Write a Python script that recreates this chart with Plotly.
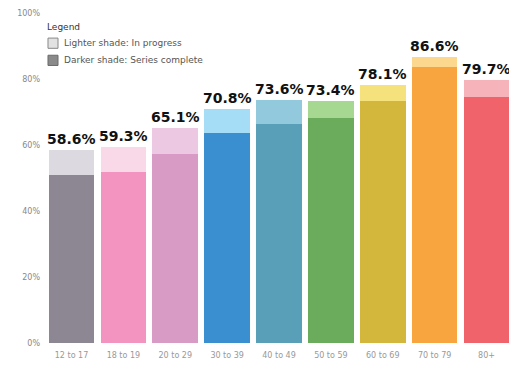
import plotly.graph_objects as go

categories = ["12 to 17", "18 to 19", "20 to 29", "30 to 39", "40 to 49",
              "50 to 59", "60 to 69", "70 to 79", "80+"]
total_pct = [58.6, 59.3, 65.1, 70.8, 73.6, 73.4, 78.1, 86.6, 79.7]
complete_pct = [51.0, 51.8, 57.2, 63.6, 66.4, 68.3, 73.3, 83.6, 74.6]
in_progress_pct = [round(t - c, 1) for t, c in zip(total_pct, complete_pct)]
total_labels = [f"{v:.1f}%" for v in total_pct]

dark_colors = ["#8c8792", "#f394c0", "#d79bc6", "#3a8fd0", "#5a9fb8",
               "#6aab5c", "#d3b73c", "#f8a43f", "#f1636a"]
light_colors = ["#dcdae0", "#f9d8e8", "#ecc8e2", "#a6ddf6", "#92c9dc",
                "#a6d892", "#f6e27c", "#fbd88e", "#f7b3ba"]

legend_title = "Legend"
legend_items = ["Lighter shade: In progress", "Darker shade: Series complete"]
legend_fill = ["#e2e2e2", "#8a8a8a"]
legend_edge = ["#888888", "#6a6a6a"]

fig = go.Figure()
fig.add_trace(go.Bar(x=categories, y=complete_pct, marker_color=dark_colors,
                     marker_line_width=0, showlegend=False, hoverinfo="skip"))
fig.add_trace(go.Bar(x=categories, y=in_progress_pct, marker_color=light_colors,
                     marker_line_width=0, showlegend=False, hoverinfo="skip"))

for c, t, lab in zip(categories, total_pct, total_labels):
    fig.add_annotation(x=c, y=t, text=f"<b>{lab}</b>", showarrow=False,
                       yanchor="bottom", yshift=1,
                       font=dict(family="DejaVu Sans", size=14, color="#111"))

# custom legend block (top-left, inside the plot)
fig.add_annotation(xref="paper", yref="paper", x=0.0, y=0.957, text=legend_title,
                   showarrow=False, xanchor="left", yanchor="middle",
                   font=dict(size=9, color="#333"))
icon_y = [(0.893, 0.924), (0.841, 0.872)]
for (y0, y1), name, fc, ec in zip(icon_y, legend_items, legend_fill, legend_edge):
    fig.add_shape(type="rect", xref="paper", yref="paper",
                  x0=0.0064, x1=0.0278, y0=y0, y1=y1,
                  fillcolor=fc, line=dict(color=ec, width=1))
    fig.add_annotation(xref="paper", yref="paper", x=0.036, y=(y0 + y1) / 2,
                       text=name, showarrow=False, xanchor="left", yanchor="middle",
                       font=dict(size=9, color="#555"))

fig.update_layout(
    width=509, height=360,
    margin=dict(l=37, r=4, t=5, b=25),
    barmode="stack", bargap=0.12, showlegend=False,
    paper_bgcolor="white", plot_bgcolor="white",
    font=dict(family="DejaVu Sans", color="#555"),
    xaxis=dict(showgrid=False, showline=False, ticks="", automargin=False,
               ticklabelstandoff=6,
               tickfont=dict(size=8, color="#999")),
    yaxis=dict(range=[0, 100], tickvals=[0, 20, 40, 60, 80, 100],
               ticktext=["0%", "20%", "40%", "60%", "80%", "100%"],
               showgrid=False, zeroline=False, showline=False, automargin=False,
               ticklabeloverflow="allow",
               tickfont=dict(size=8, color="#888"), ticklabelstandoff=4),
)

fig.write_html("out.html")
